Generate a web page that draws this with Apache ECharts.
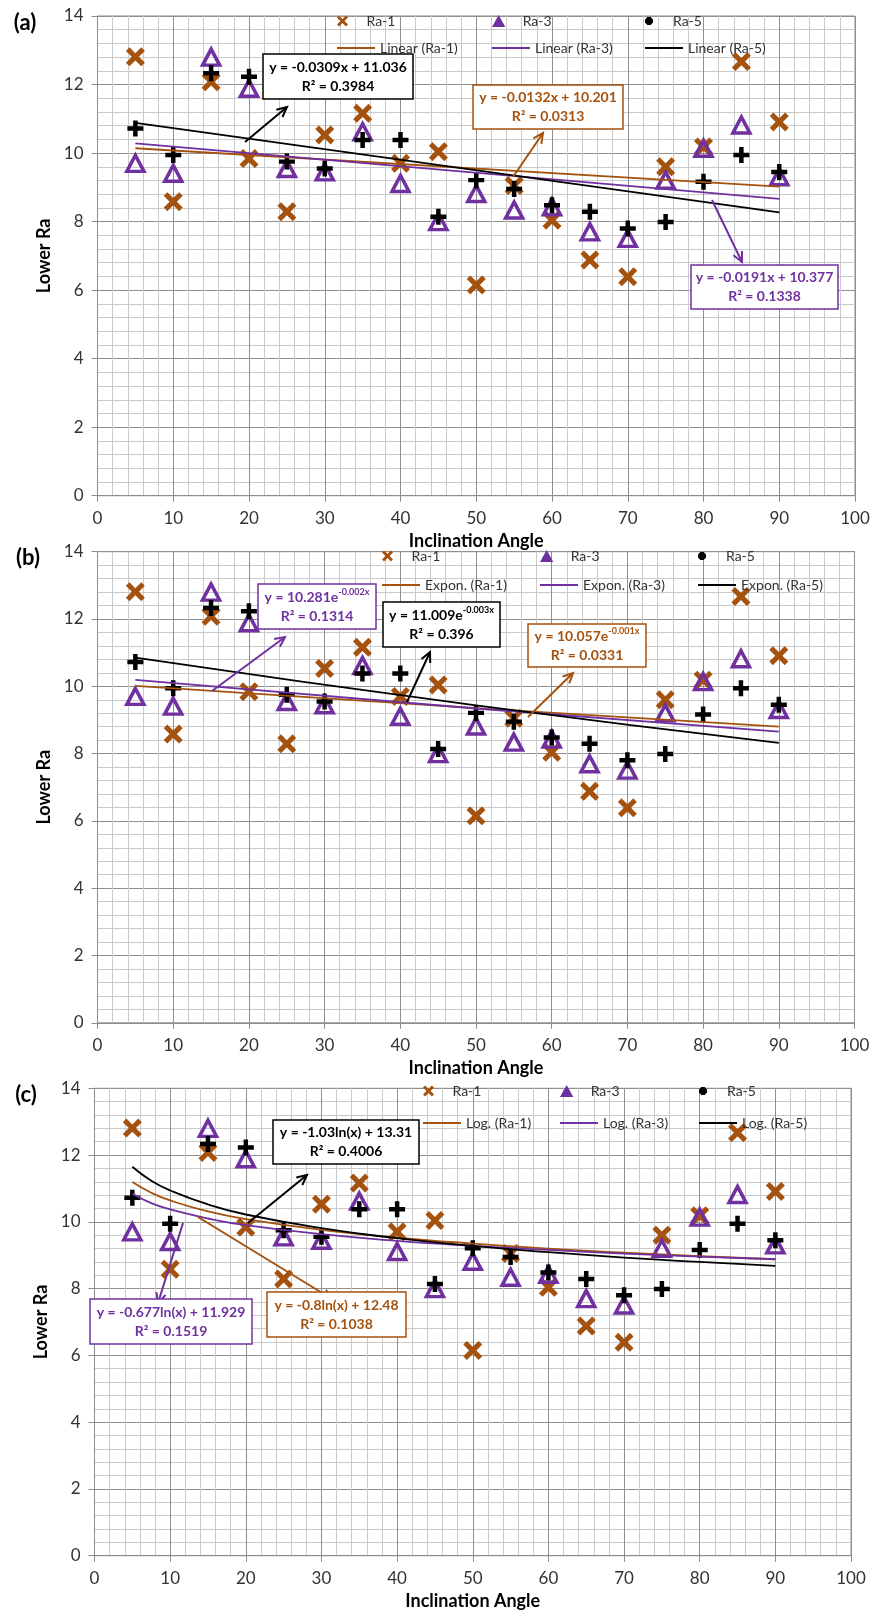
<!DOCTYPE html>
<html>
<head>
<meta charset="utf-8">
<script src="https://cdn.jsdelivr.net/npm/echarts@6/dist/echarts.min.js"></script>
<style>
  html, body { margin: 0; padding: 0; background: #fff; }
  #main { width: 873px; height: 1611px; }
</style>
</head>
<body>
<div id="main"></div>
<script>
// scatter data (same in all three panels)
const angle = [5, 10, 15, 20, 25, 30, 35, 40, 45, 50, 55, 60, 65, 70, 75, 80, 85, 90];
const ra1 = [12.81, 8.58, 12.08, 9.84, 8.29, 10.53, 11.16, 9.70, 10.04, 6.15, 9.05, 8.04, 6.88, 6.39, 9.60, 10.18, 12.67, 10.91];
const ra3 = [9.70, 9.41, 12.80, 11.89, 9.55, 9.45, 10.62, 9.11, 8.00, 8.82, 8.34, 8.43, 7.70, 7.51, 9.21, 10.14, 10.82, 9.31];
const ra5 = [10.72, 9.94, 12.33, 12.23, 9.75, 9.55, 10.38, 10.38, 8.14, 9.21, 8.95, 8.48, 8.29, 7.80, 7.99, 9.16, 9.94, 9.45];

// trend lines (a) linear
const linX = [5, 90];
const linRa1 = [10.14, 9.02];
const linRa3 = [10.28, 8.66];
const linRa5 = [10.88, 8.27];
// (b) exponential
const expX = [5, 50, 90];
const expRa1 = [10.01, 9.35, 8.80];
const expRa3 = [10.19, 9.34, 8.65];
const expRa5 = [10.85, 9.43, 8.32];
// (c) logarithmic
const logX = [5, 7.5, 10, 15, 20, 30, 40, 50, 60, 70, 80, 90];
const logRa1 = [11.19, 10.87, 10.64, 10.31, 10.08, 9.76, 9.53, 9.35, 9.20, 9.08, 8.97, 8.88];
const logRa3 = [10.84, 10.56, 10.37, 10.10, 9.90, 9.63, 9.43, 9.28, 9.16, 9.05, 8.96, 8.88];
const logRa5 = [11.65, 11.23, 10.94, 10.52, 10.22, 9.81, 9.51, 9.28, 9.09, 8.93, 8.80, 8.68];

const xTicks = { min: 0, max: 100, interval: 10 };
const yTicks = { min: 0, max: 14, interval: 2 };

const BROWN = '#A5520F';
const PURPLE = '#7030A0';
const BLACK = '#000000';
const FONT = 'Lato';

const X_PATH = 'path://M0,1.9L1.9,0L5,3.1L8.1,0L10,1.9L6.9,5L10,8.1L8.1,10L5,6.9L1.9,10L0,8.1L3.1,5Z';
const PLUS_PATH = 'path://M3.6,0H6.4V3.6H10V6.4H6.4V10H3.6V6.4H0V3.6H3.6Z';
const TRI_PATH = 'path://M5,0L10,9L0,9Z';
const DOT_PATH = 'path://M3,0H7L10,3V7L7,10H3L0,7V3Z';

var myChart = echarts.init(document.getElementById('main'));

const panels = [
  {
    grid: { left: 97.5, top: 16, width: 757.5, height: 479.7 },
    trend: ['Linear (Ra-1)', 'Linear (Ra-3)', 'Linear (Ra-5)'],
    tx: linX, t1: linRa1, t3: linRa3, t5: linRa5, smooth: false,
    rows: [23, 50], cols: [337, 492, 645],
    label: '(a)', labelPos: [25, 23]
  },
  {
    grid: { left: 97.5, top: 551.7, width: 757, height: 471.1 },
    trend: ['Expon. (Ra-1)', 'Expon. (Ra-3)', 'Expon. (Ra-5)'],
    tx: expX, t1: expRa1, t3: expRa3, t5: expRa5, smooth: true,
    rows: [558, 587], cols: [382, 540, 698],
    label: '(b)', labelPos: [28, 558]
  },
  {
    grid: { left: 94.5, top: 1088.3, width: 756.5, height: 467.4 },
    trend: ['Log. (Ra-1)', 'Log. (Ra-3)', 'Log. (Ra-5)'],
    tx: logX, t1: logRa1, t3: logRa3, t5: logRa5, smooth: true,
    rows: [1093, 1125], cols: [423, 560, 699],
    label: '(c)', labelPos: [26, 1095]
  }
];

const pair = (xs, ys) => xs.map((x, i) => [x, ys[i]]);

const grids = [], xAxes = [], yAxes = [], series = [], legends = [], graphics = [];

const legendText = { fontFamily: FONT, fontSize: 14, color: '#333' };

function addLegend(item, left, y, opt) {
  legends.push(Object.assign({
    left: left, top: y - 9, padding: 0, itemWidth: 38, itemHeight: 14,
    selectedMode: false, textStyle: legendText, data: [item]
  }, opt));
}

panels.forEach((p, i) => {
  grids.push(Object.assign({ show: true, borderColor: '#8c8c8c', borderWidth: 1 }, p.grid));
  xAxes.push({
    gridIndex: i, type: 'value', min: xTicks.min, max: xTicks.max, interval: xTicks.interval,
    name: 'Inclination Angle', nameLocation: 'middle', nameGap: 36,
    nameTextStyle: { fontFamily: FONT, fontWeight: 'bold', fontSize: 18, color: '#000' },
    axisLine: { show: true, onZero: false, lineStyle: { color: '#8c8c8c' } },
    axisTick: { show: true, length: 6, lineStyle: { color: '#8c8c8c' } },
    axisLabel: { fontFamily: FONT, fontSize: 17, color: '#333', margin: 14 },
    splitLine: { show: true, lineStyle: { color: '#8f8f8f' } },
    minorTick: { show: false, splitNumber: 5 },
    minorSplitLine: { show: true, lineStyle: { color: '#cacaca' } }
  });
  yAxes.push({
    gridIndex: i, type: 'value', min: yTicks.min, max: yTicks.max, interval: yTicks.interval,
    name: 'Lower Ra', nameLocation: 'middle', nameGap: 34,
    nameTextStyle: { fontFamily: FONT, fontWeight: 'bold', fontSize: 18, color: '#000' },
    axisLine: { show: true, onZero: false, lineStyle: { color: '#8c8c8c' } },
    axisTick: { show: true, length: 6, lineStyle: { color: '#8c8c8c' } },
    axisLabel: { fontFamily: FONT, fontSize: 17, color: '#333', margin: 14 },
    splitLine: { show: true, lineStyle: { color: '#8f8f8f' } },
    minorTick: { show: false, splitNumber: 5 },
    minorSplitLine: { show: true, lineStyle: { color: '#cacaca' } }
  });

  series.push({
    name: 'Ra-1', type: 'scatter', xAxisIndex: i, yAxisIndex: i,
    symbol: X_PATH, symbolSize: 19, itemStyle: { color: BROWN, opacity: 1 },
    data: pair(angle, ra1), z: 2
  });
  series.push({
    name: 'Ra-3', type: 'scatter', xAxisIndex: i, yAxisIndex: i,
    symbol: 'triangle', symbolSize: [17, 16],
    itemStyle: { color: 'rgba(0,0,0,0)', borderColor: PURPLE, borderWidth: 3.5, opacity: 1 },
    data: pair(angle, ra3), z: 3
  });
  series.push({
    name: 'Ra-5', type: 'scatter', xAxisIndex: i, yAxisIndex: i,
    symbol: PLUS_PATH, symbolSize: 16, itemStyle: { color: BLACK, opacity: 1 },
    data: pair(angle, ra5), z: 4
  });
  [[p.t1, BROWN], [p.t3, PURPLE], [p.t5, BLACK]].forEach((t, k) => {
    series.push({
      name: p.trend[k], type: 'line', xAxisIndex: i, yAxisIndex: i,
      symbol: 'none', smooth: p.smooth, silent: true,
      lineStyle: { color: t[1], width: 1.8 }, itemStyle: { color: t[1] },
      data: pair(p.tx, t[0]), z: 5
    });
  });

  // legend, one component per entry so the columns line up like the original
  addLegend({ name: 'Ra-1', icon: X_PATH, itemStyle: { color: BROWN } }, p.cols[0], p.rows[0], { itemHeight: 11 });
  addLegend({ name: 'Ra-3', icon: TRI_PATH, itemStyle: { color: PURPLE, borderWidth: 0 } }, p.cols[1], p.rows[0], { itemHeight: 12 });
  addLegend({ name: 'Ra-5', icon: DOT_PATH, itemStyle: { color: BLACK } }, p.cols[2], p.rows[0], { itemHeight: 8 });
  [BROWN, PURPLE, BLACK].forEach((c, k) => addLegend(
    { name: p.trend[k], icon: 'rect', itemStyle: { color: c, borderWidth: 0 } },
    p.cols[k], p.rows[1], { itemHeight: 2 }
  ));

  graphics.push({
    type: 'text', x: p.labelPos[0], y: p.labelPos[1], z: 100,
    style: { text: p.label, fontFamily: FONT, fontWeight: 'bold', fontSize: 22, fill: '#000', align: 'center', verticalAlign: 'middle' }
  });
});

// equation boxes and arrows
function box(x, y, w, h, color, text) {
  graphics.push({
    type: 'rect', z: 100, shape: { x: x, y: y, width: w, height: h },
    style: { fill: '#fff', stroke: color, lineWidth: 1.5 }
  });
  graphics.push({
    type: 'text', z: 101, x: x + w / 2, y: y + h / 2,
    style: {
      text: text, fill: color, fontFamily: FONT, fontWeight: 'bold', fontSize: 14,
      align: 'center', verticalAlign: 'middle', lineHeight: 19,
      rich: { sup: { fontFamily: FONT, fontWeight: 'bold', fontSize: 9, fill: color, verticalAlign: 'top', lineHeight: 19 } }
    }
  });
}

function arrow(x1, y1, x2, y2, color) {
  const a = Math.atan2(y2 - y1, x2 - x1), len = 11, spread = 0.45;
  graphics.push({
    type: 'line', z: 99, shape: { x1: x1, y1: y1, x2: x2, y2: y2 },
    style: { stroke: color, lineWidth: 2 }
  });
  graphics.push({
    type: 'polyline', z: 99,
    shape: { points: [
      [x2 - len * Math.cos(a - spread), y2 - len * Math.sin(a - spread)],
      [x2, y2],
      [x2 - len * Math.cos(a + spread), y2 - len * Math.sin(a + spread)]
    ] },
    style: { stroke: color, lineWidth: 2, fill: null }
  });
}

// (a)
box(263, 54, 150, 45, BLACK, 'y = -0.0309x + 11.036\nR² = 0.3984');
arrow(245, 142, 287, 107, BLACK);
box(473, 85, 150, 44, BROWN, 'y = -0.0132x + 10.201\nR² = 0.0313');
arrow(513, 177, 543, 133, BROWN);
box(691, 265, 147, 44, PURPLE, 'y = -0.0191x + 10.377\nR² = 0.1338');
arrow(712, 200, 742, 262, PURPLE);
// (b)
box(258, 584, 118, 45, PURPLE, 'y = 10.281e{sup|-0.002x}\nR² = 0.1314');
arrow(212, 691, 285, 637, PURPLE);
box(383, 602, 117, 45, BLACK, 'y = 11.009e{sup|-0.003x}\nR² = 0.396');
arrow(407, 702, 430, 652, BLACK);
box(528, 624, 118, 43, BROWN, 'y = 10.057e{sup|-0.001x}\nR² = 0.0331');
arrow(528, 717, 573, 673, BROWN);
// (c)
box(273, 1120, 146, 44, BLACK, 'y = -1.03ln(x) + 13.31\nR² = 0.4006');
arrow(248, 1223, 307, 1175, BLACK);
box(267, 1292, 139, 45, BROWN, 'y = -0.8ln(x) + 12.48\nR² = 0.1038');
arrow(198, 1217, 332, 1299, BROWN);
box(90, 1299, 162, 45, PURPLE, 'y = -0.677ln(x) + 11.929\nR² = 0.1519');
arrow(183, 1223, 158, 1303, PURPLE);

option = {
  backgroundColor: '#fff',
  animation: false,
  grid: grids,
  xAxis: xAxes,
  yAxis: yAxes,
  legend: legends,
  series: series,
  graphic: graphics
};

myChart.setOption(option);
</script>
</body>
</html>
